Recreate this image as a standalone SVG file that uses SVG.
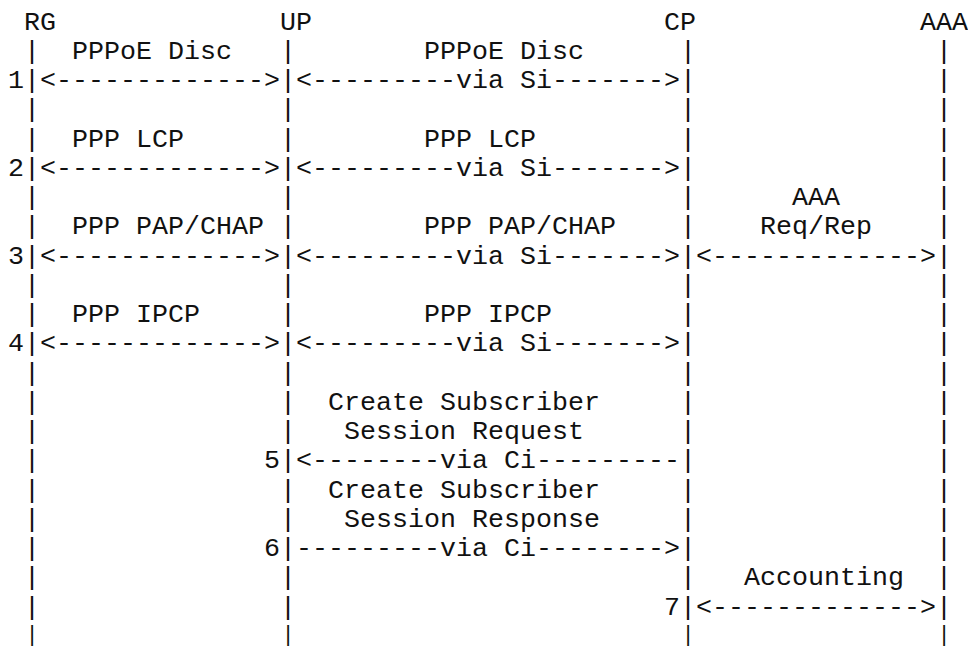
<svg xmlns="http://www.w3.org/2000/svg" width="968" height="648" viewBox="0 0 968 648">
<style>
text { font-family: "Liberation Mono", "DejaVu Sans Mono", monospace; font-size: 26.6667px; fill: #111; }
.last { font-size: 22px; }
</style>
<rect width="968" height="648" fill="#fff"/>
<g id="node-RG">
<text x="24" y="29.5">RG</text>
<text><tspan x="24" y="58.75">|</tspan><tspan x="24" y="88">|</tspan><tspan x="24" y="117.25">|</tspan><tspan x="24" y="146.5">|</tspan><tspan x="24" y="175.75">|</tspan><tspan x="24" y="205">|</tspan><tspan x="24" y="234.25">|</tspan><tspan x="24" y="263.5">|</tspan><tspan x="24" y="292.75">|</tspan><tspan x="24" y="322">|</tspan><tspan x="24" y="351.25">|</tspan><tspan x="24" y="380.5">|</tspan><tspan x="24" y="409.75">|</tspan><tspan x="24" y="439">|</tspan><tspan x="24" y="468.25">|</tspan><tspan x="24" y="497.5">|</tspan><tspan x="24" y="526.75">|</tspan><tspan x="24" y="556">|</tspan><tspan x="24" y="585.25">|</tspan><tspan x="24" y="614.5">|</tspan></text>
<text class="last" x="25.4" y="641">|</text>
</g>
<g id="node-UP">
<text x="280" y="29.5">UP</text>
<text><tspan x="280" y="58.75">|</tspan><tspan x="280" y="88">|</tspan><tspan x="280" y="117.25">|</tspan><tspan x="280" y="146.5">|</tspan><tspan x="280" y="175.75">|</tspan><tspan x="280" y="205">|</tspan><tspan x="280" y="234.25">|</tspan><tspan x="280" y="263.5">|</tspan><tspan x="280" y="292.75">|</tspan><tspan x="280" y="322">|</tspan><tspan x="280" y="351.25">|</tspan><tspan x="280" y="380.5">|</tspan><tspan x="280" y="409.75">|</tspan><tspan x="280" y="439">|</tspan><tspan x="280" y="468.25">|</tspan><tspan x="280" y="497.5">|</tspan><tspan x="280" y="526.75">|</tspan><tspan x="280" y="556">|</tspan><tspan x="280" y="585.25">|</tspan><tspan x="280" y="614.5">|</tspan></text>
<text class="last" x="281.4" y="641">|</text>
</g>
<g id="node-CP">
<text x="664" y="29.5">CP</text>
<text><tspan x="680" y="58.75">|</tspan><tspan x="680" y="88">|</tspan><tspan x="680" y="117.25">|</tspan><tspan x="680" y="146.5">|</tspan><tspan x="680" y="175.75">|</tspan><tspan x="680" y="205">|</tspan><tspan x="680" y="234.25">|</tspan><tspan x="680" y="263.5">|</tspan><tspan x="680" y="292.75">|</tspan><tspan x="680" y="322">|</tspan><tspan x="680" y="351.25">|</tspan><tspan x="680" y="380.5">|</tspan><tspan x="680" y="409.75">|</tspan><tspan x="680" y="439">|</tspan><tspan x="680" y="468.25">|</tspan><tspan x="680" y="497.5">|</tspan><tspan x="680" y="526.75">|</tspan><tspan x="680" y="556">|</tspan><tspan x="680" y="585.25">|</tspan><tspan x="680" y="614.5">|</tspan></text>
<text class="last" x="681.4" y="641">|</text>
</g>
<g id="node-AAA">
<text x="920" y="29.5">AAA</text>
<text><tspan x="936" y="58.75">|</tspan><tspan x="936" y="88">|</tspan><tspan x="936" y="117.25">|</tspan><tspan x="936" y="146.5">|</tspan><tspan x="936" y="175.75">|</tspan><tspan x="936" y="205">|</tspan><tspan x="936" y="234.25">|</tspan><tspan x="936" y="263.5">|</tspan><tspan x="936" y="292.75">|</tspan><tspan x="936" y="322">|</tspan><tspan x="936" y="351.25">|</tspan><tspan x="936" y="380.5">|</tspan><tspan x="936" y="409.75">|</tspan><tspan x="936" y="439">|</tspan><tspan x="936" y="468.25">|</tspan><tspan x="936" y="497.5">|</tspan><tspan x="936" y="526.75">|</tspan><tspan x="936" y="556">|</tspan><tspan x="936" y="585.25">|</tspan><tspan x="936" y="614.5">|</tspan></text>
<text class="last" x="937.4" y="641">|</text>
</g>
<g id="connectors">
<g id="msg1">
<text x="72" y="58.75">PPPoE Disc</text>
<text x="424" y="58.75">PPPoE Disc</text>
<text x="8" y="88">1</text>
<text x="40" y="88">&lt;-------------&gt;</text>
<text x="296" y="88">&lt;---------via Si-------&gt;</text>
</g>
<g id="msg2">
<text x="72" y="146.5">PPP LCP</text>
<text x="424" y="146.5">PPP LCP</text>
<text x="8" y="175.75">2</text>
<text x="40" y="175.75">&lt;-------------&gt;</text>
<text x="296" y="175.75">&lt;---------via Si-------&gt;</text>
</g>
<g id="msg3">
<text x="792" y="205">AAA</text>
<text x="72" y="234.25">PPP PAP/CHAP</text>
<text x="424" y="234.25">PPP PAP/CHAP</text>
<text x="760" y="234.25">Req/Rep</text>
<text x="8" y="263.5">3</text>
<text x="40" y="263.5">&lt;-------------&gt;</text>
<text x="296" y="263.5">&lt;---------via Si-------&gt;</text>
<text x="696" y="263.5">&lt;-------------&gt;</text>
</g>
<g id="msg4">
<text x="72" y="322">PPP IPCP</text>
<text x="424" y="322">PPP IPCP</text>
<text x="8" y="351.25">4</text>
<text x="40" y="351.25">&lt;-------------&gt;</text>
<text x="296" y="351.25">&lt;---------via Si-------&gt;</text>
</g>
<g id="msg5">
<text x="328" y="409.75">Create Subscriber</text>
<text x="344" y="439">Session Request</text>
<text x="264" y="468.25">5</text>
<text x="296" y="468.25">&lt;--------via Ci---------</text>
</g>
<g id="msg6">
<text x="328" y="497.5">Create Subscriber</text>
<text x="344" y="526.75">Session Response</text>
<text x="264" y="556">6</text>
<text x="296" y="556">---------via Ci--------&gt;</text>
</g>
<g id="msg7">
<text x="744" y="585.25">Accounting</text>
<text x="664" y="614.5">7</text>
<text x="696" y="614.5">&lt;-------------&gt;</text>
</g>
</g>
</svg>
